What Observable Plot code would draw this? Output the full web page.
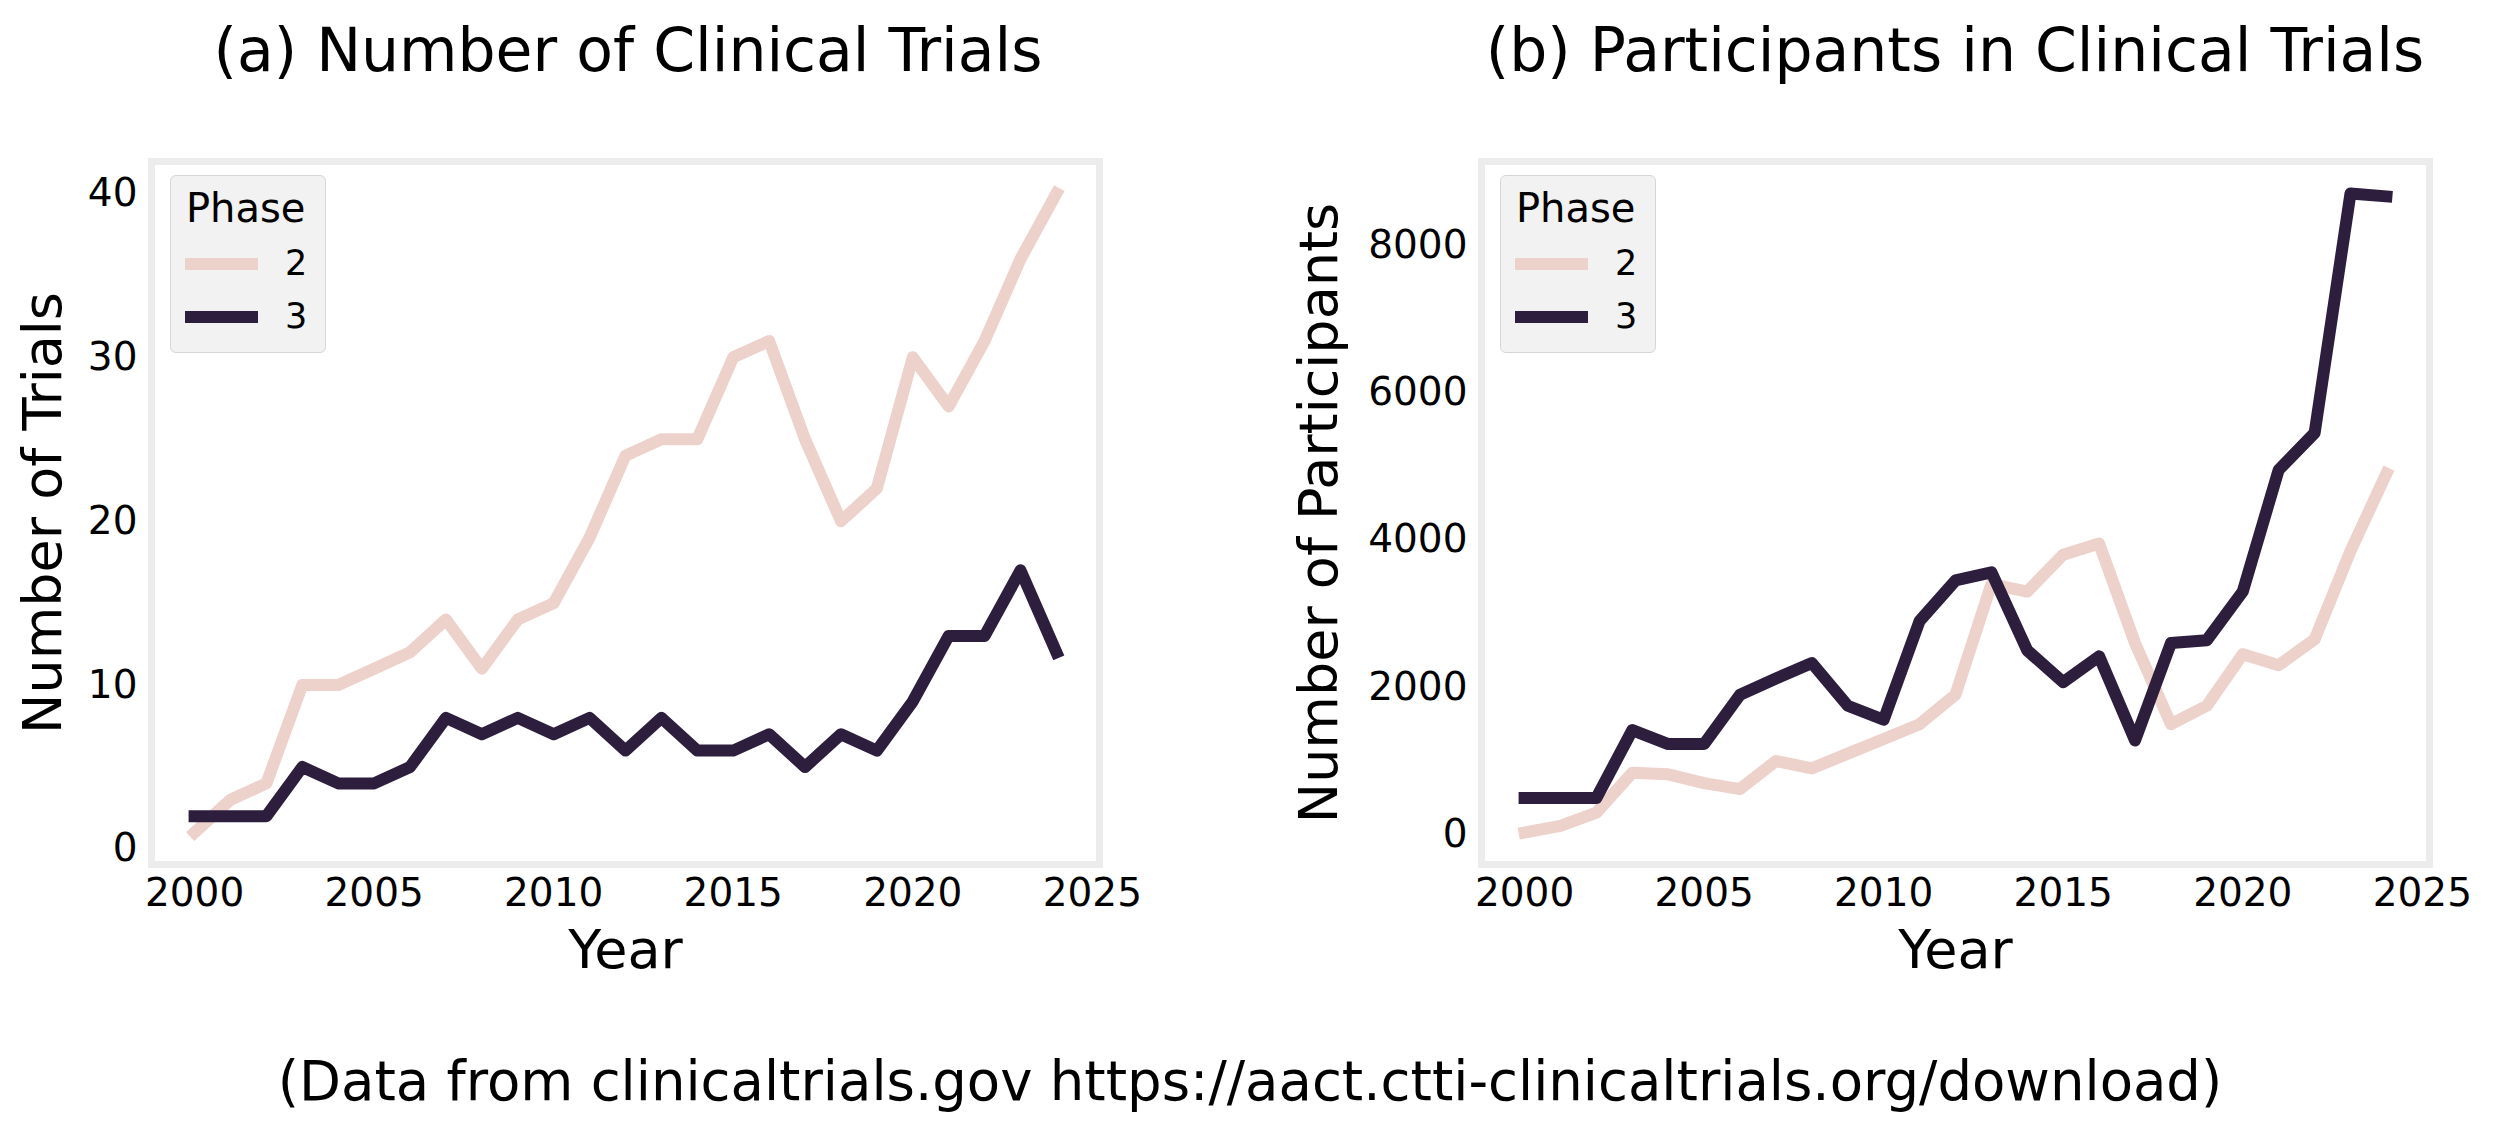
<!DOCTYPE html>
<html>
<head>
<meta charset="utf-8">
<script src="https://cdn.jsdelivr.net/npm/d3@7"></script>
<script src="https://cdn.jsdelivr.net/npm/@observablehq/plot@0.6"></script>
<style>
html, body { margin: 0; padding: 0; background: #fff; }
#page { position: relative; width: 2500px; height: 1134px; background: #fff; font-family: "DejaVu Sans", sans-serif; color: #000; overflow: hidden; }
.title { position: absolute; top: 20px; width: 1250px; text-align: center; font-size: 60px; line-height: 60px; white-space: nowrap; }
.panel { position: absolute; top: 100px; }
.caption { position: absolute; left: 0; width: 2500px; top: 1054px; text-align: center; font-size: 54.5px; line-height: 54px; white-space: nowrap; }
.legend { position: absolute; top: 175px; width: 156px; height: 178px; box-sizing: border-box; background: #f2f2f2; border: 1.5px solid #d6d6d6; border-radius: 6px; }
.legend .lt { position: absolute; left: 15px; top: 12px; font-size: 40px; line-height: 40px; white-space: nowrap; }
.legend .sw { position: absolute; left: 14px; width: 73px; height: 12px; }
.legend .ll { position: absolute; left: 114px; font-size: 35px; line-height: 35px; }
</style>
</head>
<body>
<div id="page">
  <div class="title" style="left:3px">(a) Number of Clinical Trials</div>
  <div class="title" style="left:1330px">(b) Participants in Clinical Trials</div>
  <div class="panel" id="left" style="left:0px"></div>
  <div class="panel" id="right" style="left:1250px"></div>
  <div class="caption">(Data from clinicaltrials.gov https://aact.ctti-clinicaltrials.org/download)</div>
</div>
<script>
// ---- data ----
const years = [2000, 2001, 2002, 2003, 2004, 2005, 2006, 2007, 2008, 2009, 2010, 2011, 2012,
               2013, 2014, 2015, 2016, 2017, 2018, 2019, 2020, 2021, 2022, 2023, 2024];
const phases = ["2", "3"];
const phaseColors = ["#edd1cb", "#2d1e3e"];
const trialsPhase2 = [1, 3, 4, 10, 10, 11, 12, 14, 11, 14, 15, 19, 24, 25, 25, 30, 31, 25, 20, 22, 30, 27, 31, 36, 40];
const trialsPhase3 = [2, 2, 2, 5, 4, 4, 5, 8, 7, 8, 7, 8, 6, 8, 6, 6, 7, 5, 7, 6, 9, 13, 13, 17, 12];
const participantsPhase2 = [30, 120, 300, 840, 820, 700, 620, 1000, 900, 1100, 1300, 1500, 1900,
                            3400, 3300, 3800, 3950, 2600, 1500, 1750, 2450, 2300, 2650, 3850, 4900];
const participantsPhase3 = [500, 500, 500, 1420, 1230, 1230, 1900, 2120, 2330, 1750, 1560, 2900, 3450,
                            3560, 2500, 2070, 2420, 1280, 2600, 2640, 3300, 4950, 5450, 8700, 8660];
const xTicks = [2000, 2005, 2010, 2015, 2020, 2025];
const trialsTicks = [0, 10, 20, 30, 40];
const participantsTicks = [0, 2000, 4000, 6000, 8000];
const xLabel = "Year";
const legendTitle = "Phase";

// matplotlib-like 5% margins
function padded(vals) {
  const lo = d3.min(vals), hi = d3.max(vals), m = (hi - lo) * 0.05;
  return [lo - m, hi + m];
}

function panel({a2, a3, yTicks, yLabel, marginLeft, marginRight, labelDx}) {
  const rows = [
    ...years.map((y, i) => ({year: y, value: a2[i], phase: phases[0]})),
    ...years.map((y, i) => ({year: y, value: a3[i], phase: phases[1]}))
  ];
  return Plot.plot({
    width: 1250,
    height: 900,
    marginTop: 61,
    marginBottom: 136,
    marginLeft,
    marginRight,
    style: {fontFamily: '"DejaVu Sans", sans-serif', color: "#000", background: "transparent", overflow: "visible"},
    x: {domain: padded(years)},
    y: {domain: padded([...a2, ...a3])},
    color: {domain: phases, range: phaseColors},
    marks: [
      Plot.line(rows, {x: "year", y: "value", stroke: "phase", z: "phase", strokeWidth: 12,
                       strokeLinejoin: "round", strokeLinecap: "square"}),
      Plot.frame({stroke: "#ececec", strokeWidth: 7}),
      Plot.axisX({ticks: xTicks, tickFormat: "d", tickSize: 0, tickPadding: 14, fontSize: 39, label: null, fill: "#000"}),
      Plot.axisY({ticks: yTicks, tickFormat: "d", tickSize: 0, tickPadding: 14, fontSize: 39, label: null, fill: "#000"}),
      Plot.text([xLabel], {text: d => d, frameAnchor: "bottom", lineAnchor: "top", textAnchor: "middle", dy: 65, fontSize: 54, fill: "#000"}),
      Plot.text([yLabel], {text: d => d, frameAnchor: "left", lineAnchor: "top", textAnchor: "middle", rotate: -90, dx: labelDx, fontSize: 54, fill: "#000"})
    ]
  });
}

const leftPlot = panel({a2: trialsPhase2, a3: trialsPhase3, yTicks: trialsTicks, yLabel: "Number of Trials",
                        marginLeft: 151, marginRight: 151, labelDx: -129});
const rightPlot = panel({a2: participantsPhase2, a3: participantsPhase3, yTicks: participantsTicks, yLabel: "Number of Participants",
                         marginLeft: 231, marginRight: 71, labelDx: -183});
document.getElementById("left").appendChild(leftPlot);
document.getElementById("right").appendChild(rightPlot);

// legends (inside the axes, upper left), built from the plot's color scale
function addLegend(plot, left) {
  const color = plot.scale("color");
  const box = document.createElement("div");
  box.className = "legend";
  box.style.left = left + "px";
  const t = document.createElement("div");
  t.className = "lt";
  t.textContent = legendTitle;
  box.appendChild(t);
  phases.forEach((p, i) => {
    const sw = document.createElement("div");
    sw.className = "sw";
    sw.style.top = (82 + i * 53) + "px";
    sw.style.background = color.apply(p);
    box.appendChild(sw);
    const lab = document.createElement("div");
    lab.className = "ll";
    lab.style.top = (70 + i * 53) + "px";
    lab.textContent = p;
    box.appendChild(lab);
  });
  document.getElementById("page").appendChild(box);
}
addLegend(leftPlot, 170);
addLegend(rightPlot, 1500);
</script>
</body>
</html>
